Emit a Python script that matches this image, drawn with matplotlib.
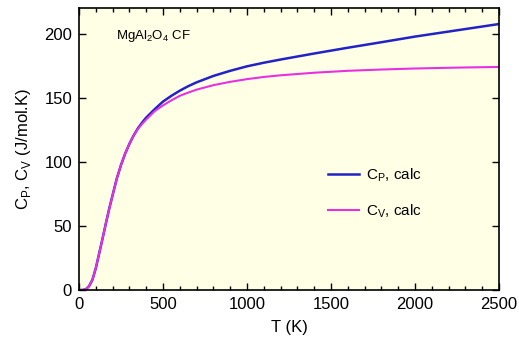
import numpy as np
import matplotlib.pyplot as plt
from matplotlib.ticker import MultipleLocator

plt.rcParams['font.family'] = ['Liberation Sans', 'DejaVu Sans']
plt.rcParams['mathtext.fontset'] = 'custom'
plt.rcParams['mathtext.rm'] = 'Liberation Sans'

# heat capacity of MgAl2O4, calculated
T = [0, 20, 40, 60, 80, 100, 120, 140, 160, 180, 200, 225, 250, 275, 300,
     325, 350, 375, 400, 450, 500, 550, 600, 650, 700, 800, 900, 1000,
     1100, 1200, 1400, 1600, 1800, 2000, 2250, 2500]
Cp = [0, 0, 0.5, 3, 8, 17, 28.5, 40, 52, 63.5, 74, 87, 97.5, 106.5, 114,
      120.5, 126, 130.5, 134.5, 141, 147, 151.5, 155.5, 159, 162, 167, 171, 174.5,
      177.3, 179.8, 184.5, 189, 193.3, 197.7, 202.6, 207.5]
Cv = [0, 0, 0.5, 3, 8, 17, 28.5, 40, 52, 63.5, 74, 87, 97.5, 106.5, 114,
      120.3, 125.5, 129.5, 133, 139.5, 144, 148, 151.5, 154, 156.3, 159.8, 162.4, 164.5,
      166.2, 167.5, 169.5, 171, 172, 172.8, 173.5, 174]

fig = plt.figure(figsize=(5.19, 3.51), dpi=100)
ax = fig.add_axes([79/519, 61/351, 420/519, 282/351])
ax.set_facecolor('#ffffe6')

ax.plot(T, Cp, color='#2222c8', lw=1.8, label=r'C$_\mathregular{P}$, calc')
ax.plot(T, Cv, color='#e830e0', lw=1.5, label=r'C$_\mathregular{V}$, calc')

ax.set_xlim(0, 2500)
ax.set_ylim(0, 220)
ax.xaxis.set_major_locator(MultipleLocator(500))
ax.xaxis.set_minor_locator(MultipleLocator(100))
ax.yaxis.set_major_locator(MultipleLocator(50))
ax.tick_params(which='both', direction='in', top=True, right=True, labelsize=12, width=1)
ax.tick_params(which='major', length=5, pad=5)
ax.tick_params(which='minor', length=3)
for s in ax.spines.values():
    s.set_linewidth(1.2)

ax.set_xlabel('T (K)', fontsize=12, labelpad=6)
ax.set_ylabel(r'C$_\mathregular{P}$, C$_\mathregular{V}$ (J/mol.K)', fontsize=12, labelpad=8)
ax.text(0.088, 0.9, r'MgAl$_\mathregular{2}$O$_\mathregular{4}$ CF', transform=ax.transAxes,
        fontsize=9.5, va='center')

ax.legend(loc='upper left', bbox_to_anchor=(0.56, 0.487), frameon=False, fontsize=11,
          handlelength=2.0, labelspacing=1.2, handletextpad=0.5)

plt.savefig('out.png', dpi=100)
